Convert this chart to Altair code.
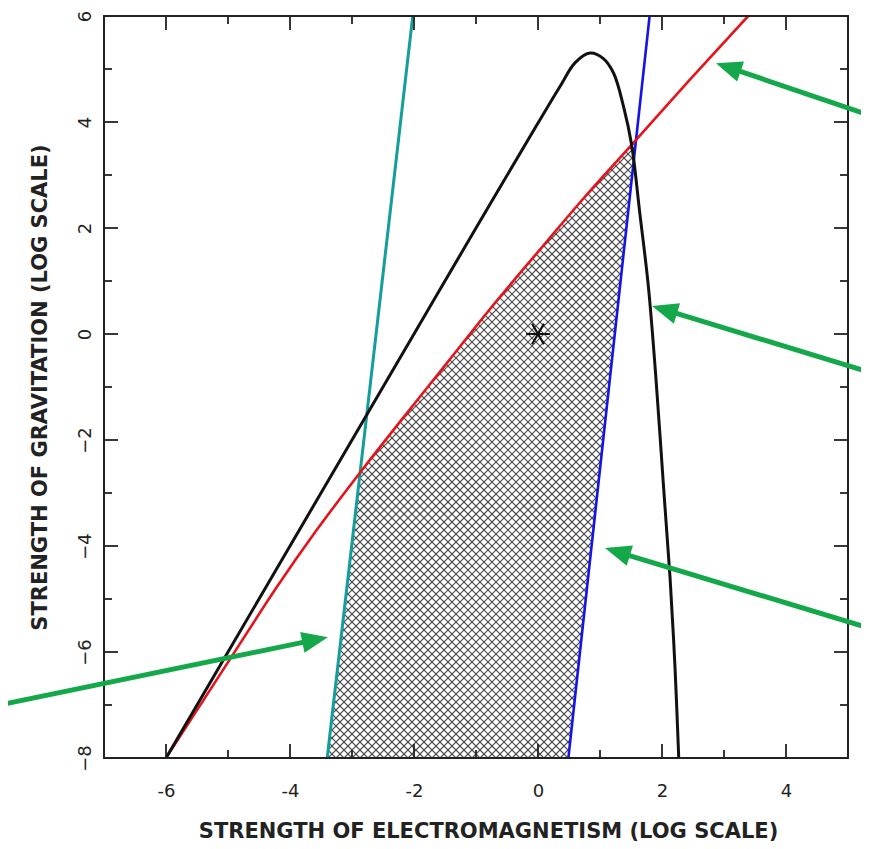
import math
import pandas as pd
import altair as alt

# ---------------- data ----------------
x_tick_labels = [-6, -4, -2, 0, 2, 4]
y_tick_labels = [-8, -6, -4, -2, 0, 2, 4, 6]
x_major = [-6, -4, -2, 0, 2, 4]
x_minor = [-5, -3, -1, 1, 3]
y_major = [-6, -4, -2, 0, 2, 4]
y_minor = [-7, -5, -3, -1, 1, 3, 5]

red_x = [-6.0, -4.91, -4.21, -3.57, -2.84, -2.12, -1.47, -0.81, 0.0, 0.75, 1.51, 2.45, 3.39]
red_y = [-8.0, -6.03, -4.77, -3.70, -2.57, -1.50, -0.55, 0.42, 1.55, 2.58, 3.57, 4.80, 6.0]

black_x = [-6.0, -5.0, -4.0, -3.0, -2.0, -1.0, 0.0, 0.35, 0.6, 0.84, 1.05, 1.22,
           1.38, 1.51, 1.64, 1.78, 1.90, 2.02, 2.13, 2.21, 2.27]
black_y = [-8.0, -6.0, -4.0, -2.0, 0.0, 2.0, 3.98, 4.66, 5.12, 5.30, 5.20, 4.92,
           4.29, 3.57, 2.30, 0.90, -0.80, -2.80, -4.60, -6.30, -8.0]

cyan_x = [-3.40, -2.02]
cyan_y = [-8.0, 6.0]
blue_x = [0.49, 1.80]
blue_y = [-8.0, 6.0]

star_x = [0.0]
star_y = [0.0]

arrow_tail_x = [-8.68, 5.34, 5.34, 5.34]
arrow_tail_y = [-7.00, 4.13, -0.72, -5.55]
arrow_tip_x = [-3.39, 2.87, 1.84, 1.08]
arrow_tip_y = [-5.72, 5.11, 0.53, -4.04]

x_title = "STRENGTH OF ELECTROMAGNETISM (LOG SCALE)"
y_title = "STRENGTH OF GRAVITATION (LOG SCALE)"

# ---------------- layout / style ----------------
W, H = 744, 742
XD = [-7, 5]
YD = [-8, 6]
PX = W / (XD[1] - XD[0])   # px per x unit
PY = H / (YD[1] - YD[0])   # px per y unit
FONT = "DejaVu Sans"
INK = "#222222"
GREEN = "#14a84b"

XS = alt.Scale(domain=XD, nice=False, zero=False)
YS = alt.Scale(domain=YD, nice=False, zero=False)

x_axis = alt.Axis(
    values=x_tick_labels, title=x_title, ticks=False, tickSize=0, domain=False, grid=False,
    labelExpr="'' + datum.value", labelFont=FONT, labelFontSize=18, labelColor=INK,
    labelBaseline="alphabetic", labelPadding=38, labelFlush=False,
    titleFont=FONT, titleFontSize=21, titleFontWeight="bold", titleColor=INK,
    titleX=384, titleY=79, titleAlign="center", titleBaseline="alphabetic",
)
y_axis = alt.Axis(
    values=y_tick_labels, title=y_title, ticks=False, tickSize=0, domain=False, grid=False,
    labelExpr="datum.value < 0 ? '−' + abs(datum.value) : '' + datum.value",
    labelAngle=270, labelAlign="center", labelBaseline="alphabetic", labelPadding=14,
    labelFlush=False, labelFont=FONT, labelFontSize=18, labelColor=INK,
    titleFont=FONT, titleFontSize=21, titleFontWeight="bold", titleColor=INK,
    titleAngle=270, titleX=-58, titleY=H / 2, titleAlign="center", titleBaseline="alphabetic",
)


def X(f="x"):
    return alt.X(f"{f}:Q", scale=XS, axis=x_axis)


def Y(f="y"):
    return alt.Y(f"{f}:Q", scale=YS, axis=y_axis)


layers = []

# ---- cross hatch texture (45 deg in screen space) ----
k = PX / PY
step = 8 / PX
HATCH = dict(clip=True, color="#4a4a4a", strokeWidth=1.2)
hatchA = (
    alt.Chart(alt.sequence(-7, 9.5, step, as_="c"))
    .transform_calculate(x="-8", y=f"{k}*(-8-datum.c)", xe="6", ye=f"{k}*(6-datum.c)")
    .mark_rule(**HATCH)
    .encode(x=X(), y=Y(), x2="xe:Q", y2="ye:Q")
)
hatchB = (
    alt.Chart(alt.sequence(-11, 5.5, step, as_="c"))
    .transform_calculate(x="-8", y=f"{k}*(8+datum.c)", xe="6", ye=f"-{k}*(6-datum.c)")
    .mark_rule(**HATCH)
    .encode(x=X(), y=Y(), x2="xe:Q", y2="ye:Q")
)
layers += [hatchA, hatchB]

red_df = pd.DataFrame({"x": red_x, "y": red_y})
black_df = pd.DataFrame({"x": black_x, "y": black_y, "i": list(range(len(black_x)))})
cyan_df = pd.DataFrame({"x": cyan_x, "y": cyan_y})
blue_df = pd.DataFrame({"x": blue_x, "y": blue_y})

# ---- white covers outside the allowed region ----
layers.append(
    alt.Chart(red_df).mark_area(clip=True, color="white", opacity=1, interpolate="monotone")
    .encode(x=X(), y=Y(), y2=alt.datum(YD[1]))
)
layers.append(
    alt.Chart(cyan_df).mark_area(clip=True, color="white", opacity=1, orient="horizontal")
    .encode(y=Y(), x=X(), x2=alt.datum(XD[0]))
)
layers.append(
    alt.Chart(blue_df).mark_area(clip=True, color="white", opacity=1, orient="horizontal")
    .encode(y=Y(), x=X(), x2=alt.datum(XD[1]))
)

# ---- curves ----
layers.append(alt.Chart(cyan_df).mark_line(clip=True, color="#149d9d", strokeWidth=3).encode(x=X(), y=Y()))
layers.append(alt.Chart(blue_df).mark_line(clip=True, color="#1414e6", strokeWidth=2.6).encode(x=X(), y=Y()))
layers.append(alt.Chart(red_df).mark_line(clip=True, color="#e3141b", strokeWidth=2.6,
                                          interpolate="monotone").encode(x=X(), y=Y()))
layers.append(alt.Chart(black_df).mark_line(clip=True, color="#111111", strokeWidth=3,
                                            interpolate="catmull-rom")
              .encode(x=X(), y=Y(), order="i:Q"))

# ---- star ----
STAR = "M-1,0L1,0M-0.5,-0.866L0.5,0.866M-0.5,0.866L0.5,-0.866"
layers.append(
    alt.Chart(pd.DataFrame({"x": star_x, "y": star_y}))
    .mark_point(shape=STAR, size=560, color="#111111", strokeWidth=2.2, opacity=1, filled=False)
    .encode(x=X(), y=Y())
)

# ---- inward ticks on all four sides ----
TICK = dict(color=INK, strokeWidth=1.8)
for vals, L in ((x_major, 14), (x_minor, 8)):
    d = pd.DataFrame({"x": vals})
    layers.append(alt.Chart(d).mark_rule(**TICK).encode(x=X(), y=alt.value(H), y2=alt.value(H - L)))
    layers.append(alt.Chart(d).mark_rule(**TICK).encode(x=X(), y=alt.value(0), y2=alt.value(L)))
for vals, L in ((y_major, 14), (y_minor, 8)):
    d = pd.DataFrame({"y": vals})
    layers.append(alt.Chart(d).mark_rule(**TICK).encode(y=Y(), x=alt.value(0), x2=alt.value(L)))
    layers.append(alt.Chart(d).mark_rule(**TICK).encode(y=Y(), x=alt.value(W), x2=alt.value(W - L)))

# ---- frame ----
layers.append(
    alt.Chart(pd.DataFrame({"a": [0]}))
    .mark_rect(fillOpacity=0, stroke=INK, strokeWidth=2)
    .encode(x=alt.value(0), x2=alt.value(W), y=alt.value(0), y2=alt.value(H))
)

# ---- green arrows ----
HEAD_LEN = 26
rows = []
for tx0, ty0, hx, hy in zip(arrow_tail_x, arrow_tail_y, arrow_tip_x, arrow_tip_y):
    dxp = (hx - tx0) * PX
    dyp = -(hy - ty0) * PY
    n = math.hypot(dxp, dyp)
    ux, uy = dxp / n, dyp / n
    ang = math.degrees(math.atan2(dxp, -dyp)) % 360
    back = HEAD_LEN * 0.75
    rows.append({
        "x": tx0, "y": ty0,
        "xe": hx - ux * back / PX, "ye": hy + uy * back / PY,
        "tx": hx, "ty": hy, "ang": ang,
    })
arr = pd.DataFrame(rows)
HEAD = "M0,0L0.82,2L-0.82,2Z"
layers.append(
    alt.Chart(arr).mark_rule(color=GREEN, strokeWidth=5)
    .encode(x=X(), y=Y(), x2="xe:Q", y2="ye:Q")
)
layers.append(
    alt.Chart(arr).mark_point(shape=HEAD, filled=True, size=HEAD_LEN ** 2,
                              color=GREEN, opacity=1, strokeWidth=0)
    .encode(x=X("tx"), y=Y("ty"), angle=alt.Angle("ang:Q", scale=None))
)

chart = (
    alt.layer(*layers)
    .properties(
        width=W, height=H,
        padding={"left": 96, "top": 8, "right": 13, "bottom": 83},
        autosize=alt.AutoSizeParams(type="none"),
        background="white",
    )
    .configure_view(strokeWidth=0)
)

chart.save("out.html", embed_options={"renderer": "svg", "actions": False})
